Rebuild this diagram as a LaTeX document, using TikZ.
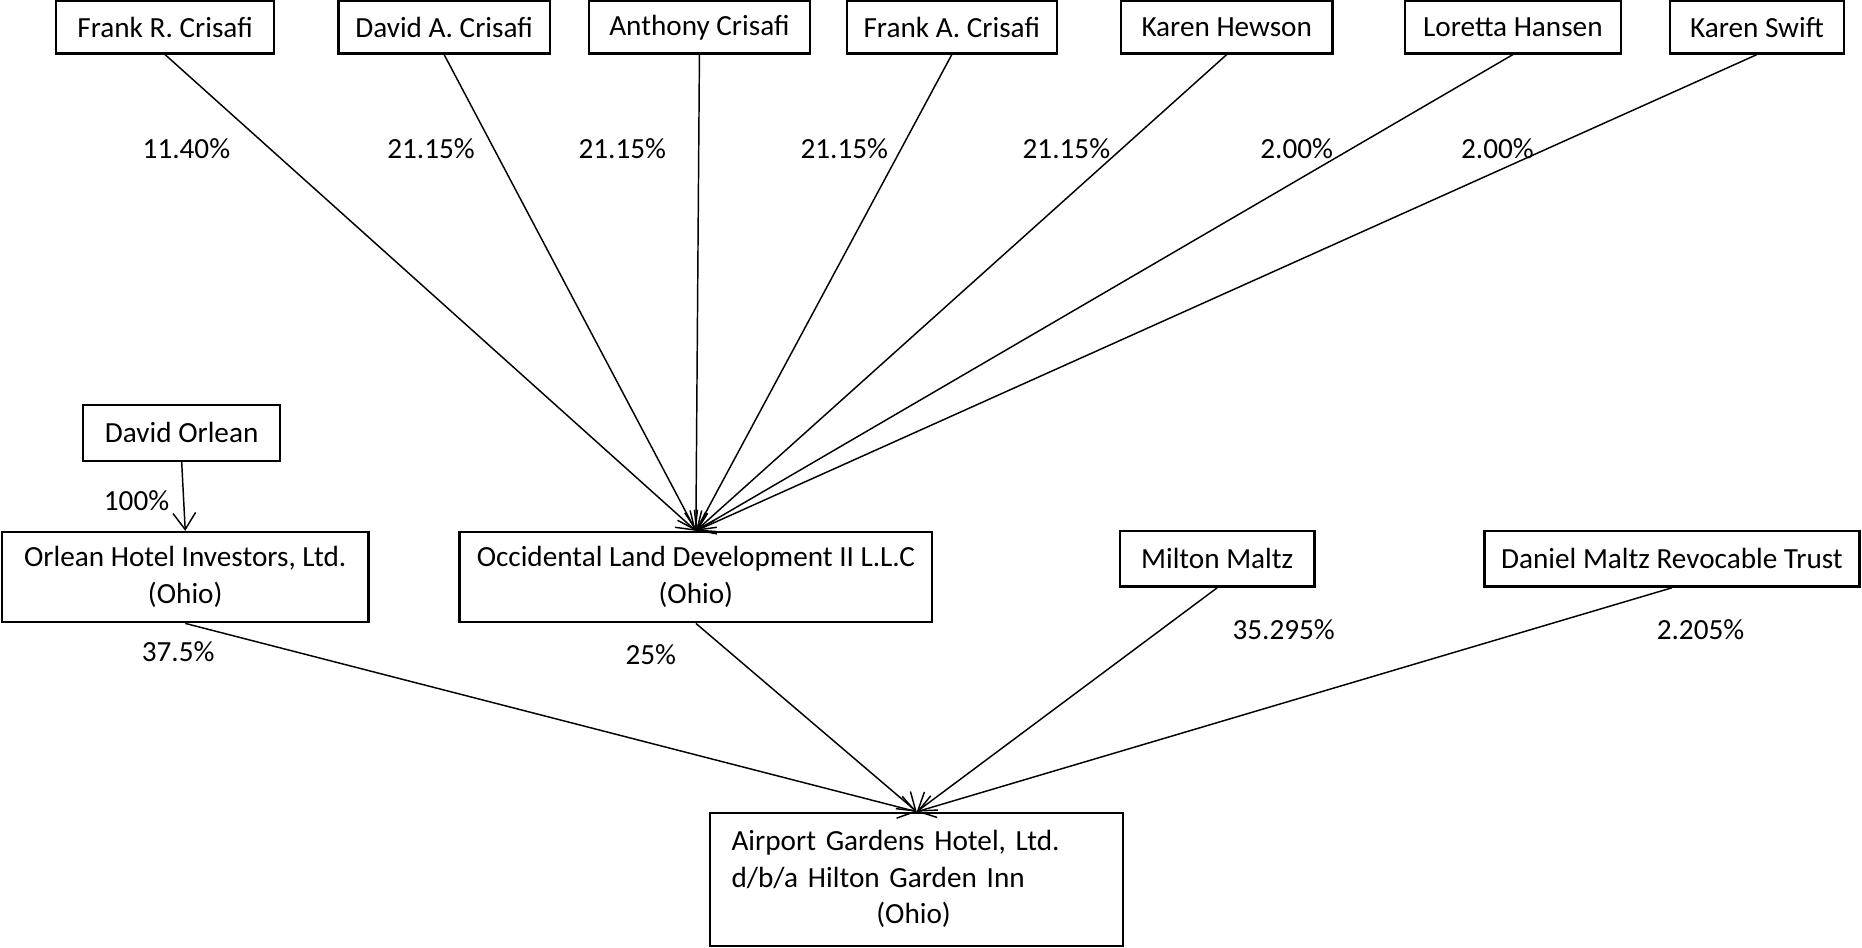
\documentclass[tikz,border=0pt]{standalone}
\usepackage{fontspec}
\setmainfont{Carlito}
\usetikzlibrary{arrows.meta}

\begin{document}
\begin{tikzpicture}[x=0.02cm, y=-0.02cm,
        owner/.style={draw, line width=1.1pt, inner sep=0pt, align=center,
            font=\fontsize{14}{17.5}\selectfont},
        share/.style={font=\fontsize{14}{17}\selectfont},
        stake/.style={-{Straight Barb[length=2.8mm,width=3.8mm]}, line width=0.7pt}]
        \useasboundingbox (0,0) rectangle (1568,798);
        \foreach \n/\x/\w/\t in {frc/139/3.68/Frank R. Crisafi, dac/374/3.56/David A. Crisafi,
            ac/589/3.72/Anthony Crisafi, fac/801.5/3.54/Frank A. Crisafi, kh/1033/3.56/Karen Hewson,
            lh/1274/3.64/Loretta Hansen, ks/1479.5/2.94/Karen Swift} {
            \node[owner, minimum width=\w cm, minimum height=0.88cm] (\n) at (\x,23) {\t};
        };
        \node[owner, minimum width=3.32cm, minimum height=0.94cm] (dor) at (153,364.5) {David Orlean};
        \node[owner, minimum width=6.17cm, minimum height=1.52cm] (ohi) at (156,486) {Orlean Hotel Investors, Ltd.\\(Ohio)};
        \node[owner, minimum width=7.96cm, minimum height=1.52cm] (old) at (586,486) {Occidental Land Development II L.L.C\\(Ohio)};
        \node[owner, minimum width=3.28cm, minimum height=0.94cm] (mm) at (1025,470.5) {Milton Maltz};
        \node[owner, minimum width=6.32cm, minimum height=0.94cm] (dmt) at (1408,470.5) {Daniel Maltz Revocable Trust};
        \node[owner, align=left, text width=6.24cm, inner xsep=0.36cm, minimum height=2.24cm] (agh) at (772,740.5)
            {Airport Gardens Hotel, Ltd.\\d/b/a Hilton Garden Inn\\\hspace*{2.44cm}(Ohio)};
        % members of the LLC
        \foreach \n/\p/\lx in {frc/11.40/157, dac/21.15/363, ac/21.15/524, fac/21.15/711,
            kh/21.15/898, lh/2.00/1092, ks/2.00/1261} {
            \draw[stake] (\n.south) -- (old.north);
            \node[share] (\n-pct) at (\lx,125) {\p\%};
        };
        \draw[stake] (dor.south) -- (ohi.north);
        \node[share] (dor-pct) at (115,422) {100\%};
        % owners of the hotel
        \foreach \n/\p/\lx/\ly in {ohi/37.5/150/549, old/25/548/551, mm/35.295/1081/530, dmt/2.205/1432/530} {
            \draw[stake] (\n.south) -- (agh.north);
            \node[share] (\n-pct) at (\lx,\ly) {\p\%};
        };
    \end{tikzpicture}
\end{document}
